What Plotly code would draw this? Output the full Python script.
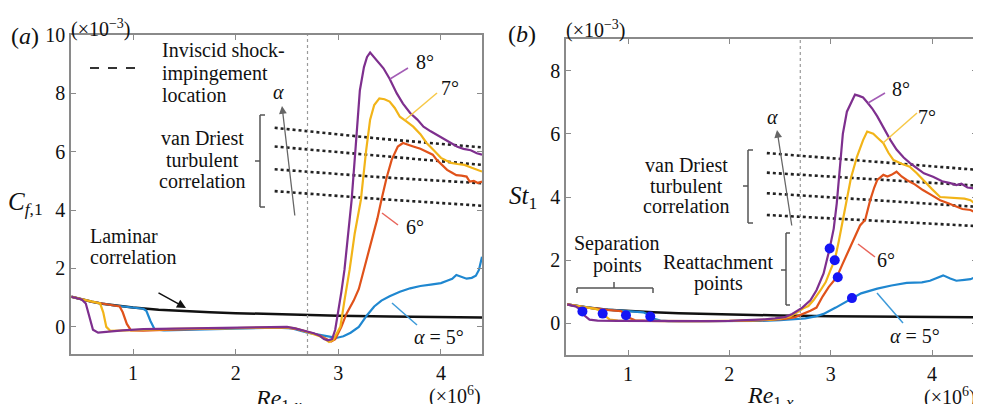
import plotly.graph_objects as go

W, H = 981, 404
OFF = 8  # page body margin offset compensation (pixels)
FONT = "Liberation Serif"

# ---------------- data ----------------
# Panel (a): Cf,1 (x1e-3) vs Re1,x (x1e6)
lam_a_x = [0.40, 0.50, 0.60, 0.70, 0.80, 0.90, 1.00, 1.25, 1.50, 1.75, 2.00, 2.50, 3.00, 3.50, 4.00, 4.40]
lam_a_y = [1.03, 0.94, 0.86, 0.79, 0.74, 0.70, 0.66, 0.59, 0.54, 0.50, 0.47, 0.42, 0.38, 0.355, 0.33, 0.32]

cf8_x = [0.40, 0.50, 0.54, 0.57, 0.61, 0.66, 0.75, 0.90, 1.10, 1.40, 1.70, 2.00, 2.30, 2.50, 2.58, 2.64, 2.70, 2.76,
         2.82, 2.86, 2.90, 2.94, 2.97, 2.99, 3.03, 3.06, 3.10, 3.13, 3.17, 3.21, 3.25, 3.28, 3.31, 3.36, 3.44, 3.50,
         3.57, 3.63, 3.70, 3.77, 3.83, 3.90, 4.00, 4.08, 4.16, 4.22, 4.29, 4.35, 4.40]
cf8_y = [1.03, 0.94, 0.80, 0.40, -0.10, -0.20, -0.17, -0.12, -0.08, -0.06, -0.04, -0.02, 0.00, 0.00, -0.05, -0.10,
         -0.15, -0.22, -0.30, -0.42, -0.46, -0.42, -0.10, 0.30, 1.20, 1.95, 3.20, 4.35, 6.20, 8.10, 8.90, 9.25, 9.40,
         9.20, 8.86, 8.50, 8.00, 7.65, 7.33, 7.10, 6.86, 6.70, 6.50, 6.35, 6.17, 6.10, 6.05, 5.95, 5.90]

cf7_x = [0.40, 0.55, 0.68, 0.71, 0.74, 0.78, 0.90, 1.10, 1.40, 1.70, 2.00, 2.30, 2.50, 2.58, 2.64, 2.70, 2.76, 2.82,
         2.87, 2.91, 2.95, 2.99, 3.02, 3.06, 3.11, 3.16, 3.22, 3.27, 3.31, 3.35, 3.40, 3.45, 3.50, 3.55, 3.60, 3.66,
         3.73, 3.80, 3.86, 3.93, 4.00, 4.05, 4.10, 4.16, 4.23, 4.30, 4.36, 4.40]
cf7_y = [1.03, 0.90, 0.80, 0.50, 0.00, -0.14, -0.12, -0.10, -0.07, -0.05, -0.03, -0.02, -0.02, -0.05, -0.12, -0.18,
         -0.25, -0.32, -0.42, -0.52, -0.45, -0.20, 0.00, 0.90, 1.95, 3.20, 4.35, 6.00, 7.10, 7.60, 7.83, 7.80, 7.72,
         7.50, 7.20, 7.05, 6.86, 6.60, 6.30, 6.05, 5.79, 5.70, 5.62, 5.58, 5.55, 5.45, 5.38, 5.32]

cf6_x = [0.40, 0.60, 0.80, 0.87, 0.90, 0.94, 0.98, 1.10, 1.30, 1.60, 2.00, 2.30, 2.50, 2.60, 2.68, 2.75, 2.82, 2.88,
         2.93, 2.97, 3.03, 3.08, 3.15, 3.20, 3.25, 3.29, 3.34, 3.38, 3.42, 3.47, 3.52, 3.58, 3.63, 3.68, 3.73, 3.80,
         3.86, 3.92, 3.96, 4.01, 4.06, 4.10, 4.15, 4.20, 4.25, 4.28, 4.32, 4.36, 4.40]
cf6_y = [1.03, 0.86, 0.74, 0.70, 0.50, 0.10, -0.12, -0.13, -0.10, -0.07, -0.04, -0.03, -0.03, -0.08, -0.15, -0.22,
         -0.30, -0.40, -0.50, -0.42, 0.00, 0.45, 0.90, 1.30, 1.95, 2.50, 3.10, 3.70, 4.35, 5.10, 5.72, 6.18, 6.30,
         6.25, 6.18, 6.10, 6.00, 5.90, 5.72, 5.55, 5.38, 5.30, 5.20, 5.18, 5.15, 4.98, 5.00, 4.93, 4.98]

cf5_x = [0.40, 0.60, 0.80, 1.00, 1.10, 1.13, 1.17, 1.21, 1.30, 1.50, 1.80, 2.10, 2.40, 2.55, 2.62, 2.70, 2.78, 2.85,
         2.92, 2.98, 3.05, 3.12, 3.20, 3.28, 3.35, 3.42, 3.50, 3.60, 3.70, 3.80, 3.90, 4.00, 4.06, 4.11, 4.15, 4.20,
         4.25, 4.30, 4.34, 4.37, 4.39, 4.40]
cf5_y = [1.03, 0.86, 0.74, 0.66, 0.62, 0.55, 0.20, -0.08, -0.12, -0.10, -0.07, -0.04, -0.03, -0.05, -0.12, -0.20,
         -0.25, -0.30, -0.36, -0.38, -0.32, -0.20, 0.00, 0.40, 0.70, 0.90, 1.05, 1.20, 1.32, 1.40, 1.45, 1.50, 1.58,
         1.65, 1.78, 1.72, 1.65, 1.68, 1.75, 1.95, 2.20, 2.40]

vd_a_x = [2.38, 3.40, 4.40]
vd_a_lines = [[6.82, 6.45, 6.15], [6.18, 5.85, 5.55], [5.40, 5.13, 4.92], [4.65, 4.38, 4.15]]

# Panel (b): St1 (x1e-3) vs Re1,x (x1e6)
lam_b_x = [0.40, 0.50, 0.60, 0.80, 1.00, 1.25, 1.50, 2.00, 2.50, 3.00, 3.50, 4.00, 4.44]
lam_b_y = [0.60, 0.55, 0.50, 0.43, 0.39, 0.35, 0.32, 0.28, 0.25, 0.23, 0.21, 0.20, 0.19]

st8_x = [0.40, 0.48, 0.53, 0.57, 0.62, 0.70, 0.90, 1.20, 1.50, 1.80, 2.00, 2.20, 2.35, 2.45, 2.55, 2.62, 2.67, 2.72,
         2.80, 2.86, 2.93, 2.99, 3.03, 3.06, 3.09, 3.12, 3.16, 3.21, 3.24, 3.28, 3.32, 3.36, 3.41, 3.46, 3.52, 3.59,
         3.65, 3.72, 3.78, 3.85, 3.92, 4.01, 4.10, 4.18, 4.24, 4.29, 4.35, 4.40, 4.44]
st8_y = [0.60, 0.54, 0.45, 0.25, 0.12, 0.09, 0.08, 0.07, 0.07, 0.07, 0.08, 0.10, 0.13, 0.16, 0.20, 0.30, 0.41, 0.50,
         0.73, 1.05, 1.58, 2.37, 3.00, 3.80, 4.90, 6.00, 6.70, 7.05, 7.24, 7.20, 7.15, 7.00, 6.80, 6.55, 6.20, 5.80,
         5.50, 5.25, 5.08, 4.90, 4.75, 4.64, 4.50, 4.44, 4.38, 4.42, 4.30, 4.28, 4.22]

st7_x = [0.40, 0.55, 0.68, 0.73, 0.77, 0.82, 0.90, 1.10, 1.40, 1.70, 2.00, 2.20, 2.40, 2.50, 2.60, 2.67, 2.73, 2.78,
         2.83, 2.90, 2.95, 3.00, 3.04, 3.08, 3.12, 3.16, 3.20, 3.26, 3.32, 3.36, 3.42, 3.47, 3.52, 3.57, 3.62, 3.70,
         3.78, 3.85, 3.91, 4.00, 4.08, 4.16, 4.24, 4.32, 4.38, 4.44]
st7_y = [0.60, 0.52, 0.46, 0.40, 0.25, 0.12, 0.09, 0.08, 0.07, 0.07, 0.08, 0.09, 0.12, 0.15, 0.22, 0.35, 0.48, 0.55,
         0.73, 1.05, 1.30, 1.70, 2.00, 2.60, 3.27, 3.90, 4.60, 5.28, 5.80, 6.07, 6.00, 5.85, 5.70, 5.40, 5.17, 5.05,
         4.96, 4.75, 4.54, 4.25, 4.00, 3.98, 3.97, 3.95, 3.90, 3.75]

st6_x = [0.40, 0.60, 0.80, 0.93, 0.97, 1.01, 1.07, 1.20, 1.50, 1.80, 2.10, 2.40, 2.55, 2.65, 2.73, 2.80, 2.86, 2.92,
         2.98, 3.06, 3.12, 3.19, 3.25, 3.29, 3.34, 3.39, 3.43, 3.46, 3.52, 3.56, 3.60, 3.65, 3.70, 3.75, 3.83, 3.91,
         4.00, 4.08, 4.16, 4.24, 4.30, 4.38, 4.44]
st6_y = [0.60, 0.50, 0.43, 0.39, 0.30, 0.18, 0.10, 0.08, 0.07, 0.07, 0.08, 0.11, 0.14, 0.20, 0.30, 0.40, 0.50, 0.85,
         1.15, 1.46, 1.90, 2.41, 2.85, 3.10, 3.27, 3.90, 4.30, 4.54, 4.70, 4.65, 4.70, 4.80, 4.65, 4.54, 4.40, 4.22,
         4.05, 3.90, 3.80, 3.70, 3.62, 3.59, 3.49]

st5_x = [0.40, 0.70, 1.00, 1.15, 1.20, 1.25, 1.32, 1.40, 1.60, 2.00, 2.30, 2.50, 2.65, 2.75, 2.85, 2.93, 3.05, 3.13,
         3.21, 3.30, 3.46, 3.60, 3.75, 3.90, 3.98, 4.05, 4.11, 4.18, 4.24, 4.32, 4.38, 4.44]
st5_y = [0.60, 0.46, 0.39, 0.35, 0.28, 0.15, 0.09, 0.07, 0.07, 0.07, 0.08, 0.10, 0.13, 0.16, 0.22, 0.30, 0.50, 0.65,
         0.80, 0.95, 1.10, 1.20, 1.28, 1.30, 1.35, 1.45, 1.52, 1.42, 1.35, 1.38, 1.40, 1.48]

sep_x = [0.55, 0.75, 0.98, 1.22]
sep_y = [0.38, 0.31, 0.26, 0.22]
reat_x = [2.99, 3.04, 3.07, 3.21]
reat_y = [2.37, 2.00, 1.46, 0.80]

vd_b_x = [2.37, 3.40, 4.44]
vd_b_lines = [[5.39, 5.12, 4.86], [4.77, 4.56, 4.36], [4.12, 3.90, 3.69], [3.43, 3.25, 3.08]]

shock_x = 2.70

a_xticks = [1, 2, 3, 4]
a_yticks = [0, 2, 4, 6, 8, 10]
b_xticks = [1, 2, 3, 4]
b_yticks = [0, 2, 4, 6, 8]

# ---------------- styles ----------------
C8, C7, C6, C5 = "#7E2F8E", "#F2B418", "#E0521A", "#1F87D0"
L8, L7, L6, L5 = "#A35DB5", "#F7C846", "#E8645A", "#3D9AD9"

fig = go.Figure()


def line(x, y, color, width, xa, ya, dash=None):
    fig.add_trace(go.Scatter(x=x, y=y, mode="lines", xaxis=xa, yaxis=ya,
                             line=dict(color=color, width=width, dash=dash),
                             showlegend=False, hoverinfo="skip"))


# panel a
for ys in vd_a_lines:
    line(vd_a_x, ys, "#222222", 2.6, "x", "y", dash="dot")
line(lam_a_x, lam_a_y, "#111111", 2.5, "x", "y")
line(cf5_x, cf5_y, C5, 2.2, "x", "y")
line(cf6_x, cf6_y, C6, 2.2, "x", "y")
line(cf7_x, cf7_y, C7, 2.2, "x", "y")
line(cf8_x, cf8_y, C8, 2.2, "x", "y")

# panel b
for ys in vd_b_lines:
    line(vd_b_x, ys, "#222222", 2.6, "x2", "y2", dash="dot")
line(lam_b_x, lam_b_y, "#111111", 2.5, "x2", "y2")
line(st5_x, st5_y, C5, 2.2, "x2", "y2")
line(st6_x, st6_y, C6, 2.2, "x2", "y2")
line(st7_x, st7_y, C7, 2.2, "x2", "y2")
line(st8_x, st8_y, C8, 2.2, "x2", "y2")
fig.add_trace(go.Scatter(x=sep_x + reat_x, y=sep_y + reat_y, mode="markers", xaxis="x2", yaxis="y2",
                         marker=dict(color="#1515F5", size=10), showlegend=False, hoverinfo="skip"))


def P(px, py):
    return (px - OFF) / W, 1 - (py - OFF) / H


def dom_x(a, b):
    return [(a - OFF) / W, (b - OFF) / W]


def dom_y(top, bottom):
    return [1 - (bottom - OFF) / H, 1 - (top - OFF) / H]


def axis(domain, rng, tickvals, anchor):
    return dict(domain=domain, range=rng, tickvals=tickvals, anchor=anchor, automargin=False,
                showline=True, linecolor="#8a8a8a", linewidth=1.5, mirror="allticks",
                ticks="inside", ticklen=5, tickwidth=1.2, tickcolor="#8a8a8a",
                showgrid=False, zeroline=False,
                tickfont=dict(family=FONT, size=20, color="#111111"))


fig.update_layout(
    width=W, height=H, margin=dict(l=0, r=0, t=0, b=0, autoexpand=False),
    paper_bgcolor="white", plot_bgcolor="white",
    xaxis=axis(dom_x(71, 482), [0.396, 4.40], a_xticks, "y"),
    yaxis=axis(dom_y(35, 354), [-0.93, 10.0], a_yticks, "x"),
    xaxis2=axis(dom_x(566, 977), [0.388, 4.444], b_xticks, "y2"),
    yaxis2=axis(dom_y(39, 355), [-1.0, 9.0], b_yticks, "x2"),
)

shapes = []
# shock-impingement vertical lines
ya = dom_y(35, 354)
yb = dom_y(39, 355)
shapes.append(dict(type="line", xref="x", yref="paper", x0=shock_x, x1=shock_x,
                   y0=ya[0], y1=ya[1], line=dict(color="#9a9a9a", width=1.2, dash="dot")))
shapes.append(dict(type="line", xref="x2", yref="paper", x0=shock_x, x1=shock_x,
                   y0=yb[0], y1=yb[1], line=dict(color="#9a9a9a", width=1.2, dash="dot")))


def seg(p0, p1, color, width=1.5, dash=None):
    x0, y0 = P(*p0)
    x1, y1 = P(*p1)
    shapes.append(dict(type="line", xref="paper", yref="paper", x0=x0, y0=y0, x1=x1, y1=y1,
                       line=dict(color=color, width=width, dash=dash)))


# legend sample dashed line
seg((90, 68), (142, 68), "#333333", 2.2, "dash")

# brackets (a)
BR = "#555555"
seg((265, 115), (260, 115), BR); seg((260, 115), (260, 207), BR); seg((260, 207), (265, 207), BR)
seg((260, 161), (255, 161), BR)
# brackets (b)
seg((753, 150), (748, 150), BR); seg((748, 150), (748, 223), BR); seg((748, 223), (753, 223), BR)
seg((748, 186), (743, 186), BR)
seg((577, 293), (577, 288), BR); seg((577, 288), (653, 288), BR); seg((653, 288), (653, 293), BR)
seg((614, 288), (614, 282), BR)
seg((790, 233), (786, 233), BR); seg((786, 233), (786, 305), BR); seg((786, 305), (790, 305), BR)
seg((786, 270), (781, 270), BR)

# leader lines (a)
seg((408, 68), (390, 79), L8)
seg((437, 93), (405, 120), L7)
seg((398, 225), (382, 213), L6)
seg((417, 325), (392, 303), L5)
# leader lines (b)
seg((885, 93), (868, 103), L8)
seg((917, 113), (883, 143), L7)
seg((875, 257), (858, 244), L6)
seg((903, 323), (877, 293), L5)

fig.update_layout(shapes=shapes)

ann = []


def text(s, px, py, size=20, xanchor="center", color="#111111"):
    x, y = P(px, py)
    ann.append(dict(text=s, x=x, y=y, xref="paper", yref="paper", xanchor=xanchor, yanchor="middle",
                    showarrow=False, font=dict(family=FONT, size=size, color=color)))


def arrow(head, tail, color, width=1.3):
    x, y = P(*head)
    ann.append(dict(text="", x=x, y=y, xref="paper", yref="paper", showarrow=True,
                    ax=tail[0] - head[0], ay=tail[1] - head[1], axref="pixel", ayref="pixel",
                    arrowhead=2, arrowsize=1.2, arrowwidth=width, arrowcolor=color))


# panel (a) text
text("(<i>a</i>)", 25, 36, 24)
text("(×10<sup>−3</sup>)", 101, 28, 20)
text("<i>C</i><sub><i>f</i>,1</sub>", 25, 203, 25)
text("<i>Re</i><sub>1,<i>x</i></sub>", 278, 400, 24)
text("(×10<sup>6</sup>)", 455, 395, 20)
text("Inviscid shock-", 160, 50, 20, "left")
text("impingement", 160, 73, 20, "left")
text("location", 160, 95, 20, "left")
text("<i>α</i>", 278, 92, 20)
text("van Driest", 202, 138, 20)
text("turbulent", 202, 160, 20)
text("correlation", 202, 181, 20)
text("Laminar", 88, 236, 20, "left")
text("correlation", 88, 257, 20, "left")
text("8°", 425, 62, 20)
text("7°", 450, 88, 20)
text("6°", 415, 227, 20)
text("<i>α</i> = 5°", 439, 337, 20)
arrow((282, 106), (295, 217), "#666666", 1.3)
arrow((186, 308), (157, 292), "#111111", 1.5)

# panel (b) text
text("(<i>b</i>)", 522, 34, 24)
text("(×10<sup>−3</sup>)", 596, 29, 20)
text("<i>St</i><sub>1</sub>", 523, 197, 25)
text("<i>Re</i><sub>1,<i>x</i></sub>", 770, 397, 24)
text("(×10<sup>6</sup>)", 950, 396, 20)
text("<i>α</i>", 772, 117, 20)
text("van Driest", 686, 165, 20)
text("turbulent", 686, 186, 20)
text("correlation", 686, 206, 20)
text("Separation", 617, 244, 20)
text("points", 617, 265, 20)
text("Reattachment", 718, 262, 20)
text("points", 718, 283, 20)
text("8°", 901, 89, 20)
text("7°", 927, 117, 20)
text("6°", 886, 260, 20)
text("<i>α</i> = 5°", 915, 336, 20)
arrow((777, 130), (792, 227), "#666666", 1.3)

fig.update_layout(annotations=ann)
fig.write_html("out.html")
